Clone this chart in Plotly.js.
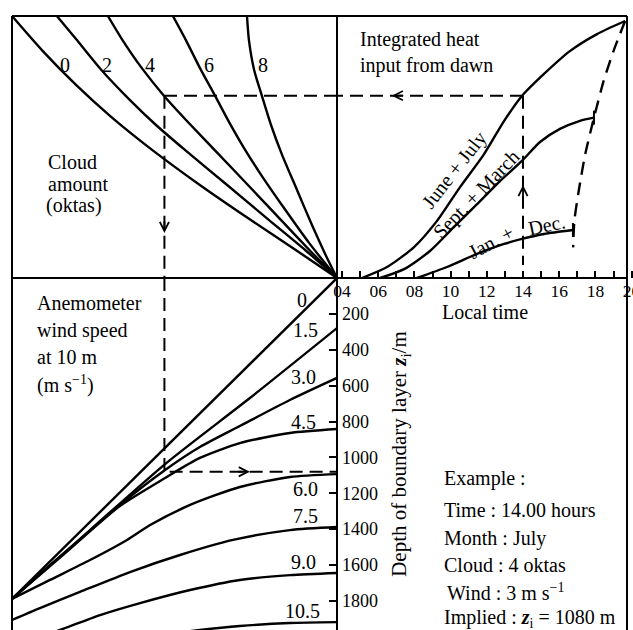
<!DOCTYPE html>
<html><head><meta charset="utf-8">
<script src="https://cdn.plot.ly/plotly-3.0.1.min.js"></script>
<style>html,body{margin:0;padding:0;background:#fff}#chart{width:633px;height:630px}</style>
</head><body><div id="chart"></div>
<script>
// ---------- DATA ----------
// Top-right panel: integrated heat input from dawn (relative units) vs local time (h)
const hourTicks = [4, 6, 8, 10, 12, 14, 16, 18, 20];
const hourLabels = ['04', '06', '08', '10', '12', '14', '16', '18', '20'];
const hourMinor = [5, 7, 9, 11, 13, 15, 17, 19];
const junJulT = [5.10, 6.49, 7.98, 9.25, 10.52, 11.85, 12.95, 13.94, 15.16, 16.59, 18.09, 19.64];
const junJulH = [0, 4.2, 11.8, 21.8, 34.7, 47.3, 59.9, 69.5, 77.9, 86.6, 93.1, 98.1];
const sepMarT = [6.10, 7.43, 8.86, 10.19, 11.46, 12.73, 13.94, 14.94, 16.04, 17.15, 17.92];
const sepMarH = [0, 3.4, 10.3, 19.5, 28.2, 37.0, 44.7, 51.9, 56.9, 60.0, 61.2];
const janDecT = [8.14, 9.80, 11.46, 12.95, 13.94, 15.16, 16.76];
const janDecH = [0, 4.2, 9.2, 13.0, 14.9, 16.8, 18.3];
const sunsetT = [19.64, 19.01, 18.46, 17.92, 17.44, 17.08, 16.84, 16.77];
const sunsetH = [98.1, 86.8, 75.3, 61.2, 47.3, 33.3, 21.9, 11.7];

// Top-left panel: cloud amount curves (oktas) — effective heat E vs integrated heat H
const cloudLabels = ['0', '2', '4', '6', '8'];
const cloud0E = [100, 90.8, 80.3, 69.5, 56.9, 42.2, 26.5, 12.7, 0];
const cloud0H = [100, 87.0, 73.7, 61.5, 48.9, 35.5, 22.1, 10.7, 0];
const cloud2E = [86.2, 80.3, 72.5, 63.7, 55.7, 46.8, 33.8, 20.9, 9.8, 0];
const cloud2H = [100, 91.2, 79.4, 67.9, 58.4, 48.9, 35.5, 22.1, 10.7, 0];
const cloud4E = [70.5, 66.2, 60.1, 53.2, 45.0, 37.7, 27.4, 17.2, 8.5, 0];
const cloud4H = [100, 91.2, 80.2, 69.5, 58.4, 48.9, 35.5, 22.1, 10.7, 0];
const cloud6E = [50.5, 46.5, 42.2, 37.5, 33.2, 28.6, 23.1, 16.3, 8.6, 0];
const cloud6H = [100, 90.8, 80.2, 69.5, 59.5, 49.6, 38.9, 26.7, 13.4, 0];
const cloud8E = [27.7, 27.1, 25.5, 23.1, 20.3, 16.9, 12.3, 7.7, 3.5, 0];
const cloud8H = [100, 90.8, 79.4, 69.5, 58.4, 47.0, 33.6, 20.2, 8.8, 0];

// Bottom-left panel: wind speed curves (m/s) — effective heat E vs depth z_i (m)
const windLabels = ['0', '1.5', '3.0', '4.5', '6.0', '7.5', '9.0', '10.5'];
const wind0E = [0, 52.9, 100];
const wind0D = [0, 948, 1789];
const wind15E = [0, 26.8, 52.9, 76.0, 100];
const wind15D = [279, 669, 1037, 1405, 1789];
const wind30E = [0, 14.5, 29.9, 42.2, 52.9, 66.8, 82.2, 100];
const wind30D = [557, 680, 825, 942, 1070, 1265, 1511, 1789];
const wind45E = [0, 14.5, 29.9, 42.2, 52.9, 66.8, 78.2, 88.3, 100];
const wind45D = [842, 864, 920, 1003, 1115, 1271, 1444, 1600, 1789];
const wind60E = [0, 14.5, 29.9, 45.2, 57.5, 64.6, 76.0, 88.3, 100];
const wind60D = [1093, 1109, 1165, 1265, 1377, 1460, 1572, 1683, 1789];
const wind75E = [0, 14.5, 32.0, 48.3, 63.7, 79.1, 91.4, 100];
const wind75D = [1388, 1405, 1460, 1544, 1639, 1750, 1840, 1906];
const wind90E = [0, 14.5, 29.9, 45.2, 60.6, 72.9, 85.2, 91.4];
const wind90D = [1644, 1656, 1683, 1739, 1812, 1879, 1962, 2001];
const wind105E = [0, 14.5, 29.9, 42.2, 54.5];
const wind105D = [1918, 1923, 1940, 1962, 1990];
const depthTicks = [200, 400, 600, 800, 1000, 1200, 1400, 1600, 1800];

// Worked example
const exTime = 14;      // h
const exHeat = 69.6;    // June + July at 14 h
const exEff = 53.1;     // after 4 oktas of cloud
const exDepth = 1080;   // m, with 3 m/s wind
const exBottomH = 5;    // lower end of the dashed time line

// ---------- LAYOUT HELPERS ----------
const W = 633, H = 630;
const px = v => v / W;
const py = v => 1 - v / H;
const FONT = '"Liberation Serif", "Times New Roman", serif';
const TS = 20;
const timeRange = [3.724, 20.077];
const heatRange = [0, 100];
const effRange = [100, 0];
const depthRange = [1962, 0];

const curve = (x, y, xa, ya, extra) => Object.assign({
  type: 'scatter', mode: 'lines', x: x, y: y, xaxis: xa, yaxis: ya,
  line: {color: '#000', width: 2.4, shape: 'spline', smoothing: 0.7},
  hoverinfo: 'skip', showlegend: false
}, extra || {});
const dashed = (x, y, xa, ya) => curve(x, y, xa, ya, {line: {color: '#000', width: 2, dash: '13px,7px'}});
const last = a => a[a.length - 1];

const traces = [
  // top-right
  curve(junJulT, junJulH, 'x', 'y'),
  curve(sepMarT, sepMarH, 'x', 'y'),
  curve(janDecT, janDecH, 'x', 'y'),
  curve(sunsetT, sunsetH, 'x', 'y', {line: {color: '#000', width: 2.4, dash: '13px,8px', shape: 'spline', smoothing: 0.7}}),
  {type: 'scatter', mode: 'markers', x: [last(sepMarT), last(janDecT)], y: [last(sepMarH), last(janDecH)],
   xaxis: 'x', yaxis: 'y', marker: {symbol: 'line-ns', size: 10, line: {color: '#000', width: 2}},
   hoverinfo: 'skip', showlegend: false},
  // top-left
  curve(cloud0E, cloud0H, 'x2', 'y2'),
  curve(cloud2E, cloud2H, 'x2', 'y2'),
  curve(cloud4E, cloud4H, 'x2', 'y2'),
  curve(cloud6E, cloud6H, 'x2', 'y2'),
  curve(cloud8E, cloud8H, 'x2', 'y2'),
  // bottom-left
  curve(wind0E, wind0D, 'x3', 'y3', {line: {color: '#000', width: 2.4}}),
  curve(wind15E, wind15D, 'x3', 'y3'),
  curve(wind30E, wind30D, 'x3', 'y3'),
  curve(wind45E, wind45D, 'x3', 'y3'),
  curve(wind60E, wind60D, 'x3', 'y3'),
  curve(wind75E, wind75D, 'x3', 'y3'),
  curve(wind90E, wind90D, 'x3', 'y3'),
  curve(wind105E, wind105D, 'x3', 'y3'),
  // example path
  dashed([exTime, exTime], [exHeat, exBottomH], 'x', 'y'),
  dashed([exTime, timeRange[0]], [exHeat, exHeat], 'x', 'y'),
  dashed([0, exEff], [exHeat, exHeat], 'x2', 'y2'),
  dashed([exEff, exEff], [exHeat, 0], 'x2', 'y2'),
  dashed([exEff, exEff], [0, exDepth], 'x3', 'y3'),
  dashed([exEff - 1.6, 0], [exDepth, exDepth], 'x3', 'y3')
];

const txt = (text, x, y, opts) => Object.assign({
  xref: 'paper', yref: 'paper', x: px(x), y: py(y), text: text, showarrow: false,
  xanchor: 'left', yanchor: 'middle', font: {family: FONT, size: TS, color: '#000'}
}, opts || {});
const arrow = (xr, yr, x, y, ax, ay) => ({
  xref: xr, yref: yr, x: x, y: y, ax: ax, ay: ay, axref: 'pixel', ayref: 'pixel',
  text: '', showarrow: true, arrowhead: 5, arrowsize: 1, arrowwidth: 1.8, arrowcolor: '#000', standoff: 0
});

const cloudLabelPos = [[65, 65], [107, 65], [150, 65], [209, 65], [263, 65]];
const windLabelPos = [[309, 300], [320, 330], [318, 377], [318, 422], [320, 489], [320, 516], [318, 562], [322, 611]];

const annotations = [
  txt('Integrated heat', 358, 39.5),
  txt('input from dawn', 358, 66),
  txt('Cloud', 46, 162),
  txt('amount', 46, 183.5),
  txt('(oktas)', 44, 205.5),
  txt('Anemometer', 35, 303),
  txt('wind speed', 35, 330),
  txt('at 10 m', 35, 357),
  txt('(m s<sup>\u22121</sup>)', 35, 384),
  txt('June\u00a0+\u00a0July', 455, 170, {xanchor: 'center', textangle: -52}),
  txt('Sept. + March', 476, 194, {xanchor: 'center', textangle: -46}),
  txt('Jan. +', 491, 242, {xanchor: 'center', textangle: -28}),
  txt('Dec.', 546, 224.5, {xanchor: 'center', textangle: -12}),
  txt('Example :', 442, 478),
  txt('Time : 14.00 hours', 442, 510),
  txt('Month : July', 442, 538),
  txt('Cloud : 4 oktas', 442, 565),
  txt('Wind : 3 m s<sup>\u22121</sup>', 445, 592),
  txt('Implied : <b><i>z</i></b><sub>i</sub> = 1080 m', 442, 618.5),
  arrow('x', 'y', 6.75, exHeat, 13, 0),
  arrow('x', 'y', exTime, 35.5, 0, 13),
  arrow('x2', 'y2', exEff, 17.2, 0, -13),
  arrow('x3', 'y3', 26.8, exDepth, -13, 0)
];
cloudLabels.forEach((t, i) => annotations.push(txt(t, cloudLabelPos[i][0], cloudLabelPos[i][1], {xanchor: 'center'})));
windLabels.forEach((t, i) => annotations.push(txt(t, windLabelPos[i][0], windLabelPos[i][1], {xanchor: 'right'})));

const frameLine = (x0, y0, x1, y1) => ({type: 'line', xref: 'paper', yref: 'paper',
  x0: px(x0), y0: py(y0), x1: px(x1), y1: py(y1), line: {color: '#000', width: 2}});

const hidden = {showgrid: false, zeroline: false, showticklabels: false, ticks: '', showline: false, fixedrange: true};

const layout = {
  width: W, height: H, margin: {l: 0, r: 0, t: 0, b: 0},
  paper_bgcolor: '#fff', plot_bgcolor: 'rgba(0,0,0,0)', showlegend: false,
  font: {family: FONT, size: TS, color: '#000'},
  xaxis: {domain: [px(337), 1], anchor: 'y', range: timeRange, showgrid: false, zeroline: false, showline: false,
    tickmode: 'array', tickvals: hourTicks, ticktext: hourLabels, ticks: 'inside', ticklen: 7, tickwidth: 2,
    tickcolor: '#000', tickfont: {family: FONT, size: 17.5}, ticklabeloverflow: 'allow',
    minor: {tickmode: 'array', tickvals: hourMinor, ticks: 'inside', ticklen: 7, tickwidth: 2, tickcolor: '#000'},
    title: {text: 'Local time', font: {family: FONT, size: TS}, standoff: 4}},
  yaxis: Object.assign({}, hidden, {domain: [py(278), py(16)], anchor: 'x', range: heatRange}),
  xaxis2: Object.assign({}, hidden, {domain: [px(12), px(337)], anchor: 'y2', range: effRange}),
  yaxis2: Object.assign({}, hidden, {domain: [py(278), py(16)], anchor: 'x2', range: heatRange}),
  xaxis3: Object.assign({}, hidden, {domain: [px(12), px(337)], anchor: 'y3', range: effRange}),
  yaxis3: {domain: [0, py(278)], anchor: 'x3', side: 'right', range: depthRange, showgrid: false, zeroline: false,
    showline: false, tickmode: 'array', tickvals: depthTicks, ticks: 'inside', ticklen: 8, tickwidth: 2,
    tickcolor: '#000', tickfont: {family: FONT, size: 18}, ticklabelstandoff: 4,
    title: {text: 'Depth of boundary layer <b><i>z</i></b><sub>i</sub>/m', font: {family: FONT, size: 21}, standoff: 14}},
  shapes: [frameLine(12, 16, 12, 630), frameLine(12, 16, 627, 16), frameLine(627, 16, 627, 630),
           frameLine(12, 278, 627, 278), frameLine(337, 16, 337, 630)],
  annotations: annotations
};

Plotly.newPlot('chart', traces, layout, {staticPlot: true, displayModeBar: false});
</script>
</body></html>
